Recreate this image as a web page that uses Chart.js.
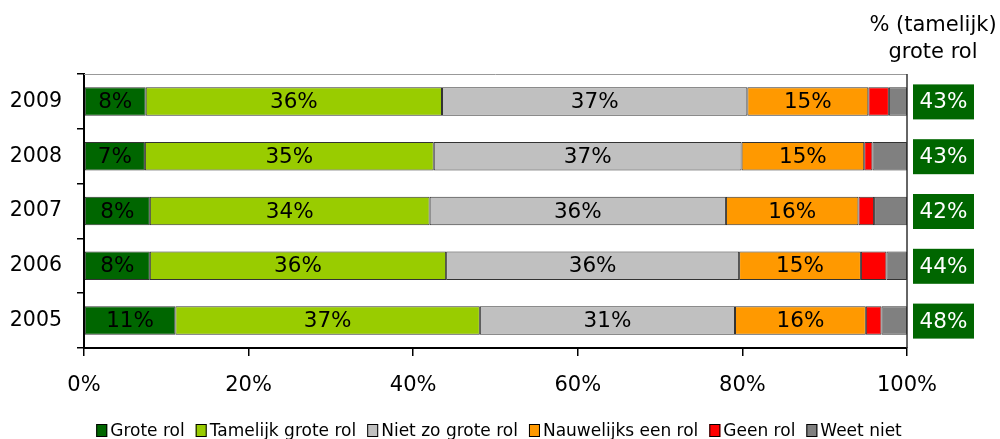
<!DOCTYPE html>
<html>
<head>
<meta charset="utf-8">
<script src="https://cdn.jsdelivr.net/npm/chart.js@4.4.0/dist/chart.umd.min.js"></script>
<style>
  html, body { margin: 0; padding: 0; background: #fff; }
  #wrap { width: 1000px; height: 439px; }
</style>
</head>
<body>
<div id="wrap"><canvas id="chart" width="1000" height="439"></canvas></div>
<script>
const years = ["2009", "2008", "2007", "2006", "2005"];
const groteRol = [7.5, 7.4, 8.0, 8.0, 11.1];
const tamelijkGroteRol = [36.0, 35.1, 34.0, 36.0, 37.0];
const nietZoGroteRol = [37.1, 37.4, 36.0, 35.6, 31.0];
const nauwelijksEenRol = [14.7, 14.9, 16.1, 14.8, 15.9];
const geenRol = [2.5, 1.0, 1.9, 3.1, 1.9];
const weetNiet = [2.2, 4.2, 4.0, 2.5, 3.1];
const totaalGroteRol = [43, 43, 42, 44, 48];
const seriesNames = ["Grote rol", "Tamelijk grote rol", "Niet zo grote rol", "Nauwelijks een rol", "Geen rol", "Weet niet"];
const seriesColors = ["#006600", "#99cc00", "#c0c0c0", "#ff9900", "#ff0000", "#808080"];
const headerLines = ["% (tamelijk)", "grote rol"];

const FONT = "'DejaVu Sans', sans-serif";

const seriesData = [groteRol, tamelijkGroteRol, nietZoGroteRol, nauwelijksEenRol, geenRol, weetNiet];

// labels inside bars, right-hand boxes, header, legend, frame
const extras = {
  id: "extras",
  beforeDatasetsDraw(chart) {
    const { ctx, chartArea: a } = chart;
    ctx.save();
    ctx.strokeStyle = "#999";
    ctx.lineWidth = 1;
    ctx.beginPath();
    ctx.moveTo(a.left, a.top + 0.5);
    ctx.lineTo(a.right, a.top + 0.5);
    ctx.stroke();
    ctx.strokeStyle = "#333";
    ctx.lineWidth = 1.5;
    ctx.beginPath();
    ctx.moveTo(a.right, a.top);
    ctx.lineTo(a.right, a.bottom);
    ctx.stroke();
    ctx.restore();
  },
  afterDraw(chart) {
    const { ctx } = chart;
    const yScale = chart.scales.y;
    ctx.save();
    ctx.textAlign = "center";
    ctx.textBaseline = "middle";
    ctx.font = "21.5px " + FONT;
    ctx.fillStyle = "#000";
    for (let d = 0; d < 4; d++) {
      const meta = chart.getDatasetMeta(d);
      meta.data.forEach((bar, i) => {
        const v = chart.data.datasets[d].data[i];
        ctx.fillText(Math.round(v) + "%", (bar.x + bar.base) / 2, bar.y + 1);
      });
    }
    // boxes right
    years.forEach((yr, i) => {
      const y = yScale.getPixelForValue(i);
      ctx.fillStyle = "#006600";
      ctx.fillRect(913, y - 17, 61, 35);
      ctx.fillStyle = "#fff";
      ctx.fillText(totaalGroteRol[i] + "%", 943.5, y + 1.5);
    });
    // header
    ctx.fillStyle = "#000";
    ctx.font = "21px " + FONT;
    ctx.textBaseline = "alphabetic";
    ctx.fillText(headerLines[0], 933, 31);
    ctx.fillText(headerLines[1], 933, 58);
    // legend
    ctx.font = "17px " + FONT;
    const boxW = 11, gapT = 3, gapI = 11;
    const ds = chart.data.datasets;
    let total = 0;
    ds.forEach((s, k) => {
      total += boxW + gapT + ctx.measureText(s.label).width + (k < ds.length - 1 ? gapI : 0);
    });
    let x = 499 - total / 2;
    ctx.textAlign = "left";
    ds.forEach((s) => {
      ctx.fillStyle = s.backgroundColor;
      ctx.fillRect(x, 424, boxW, 13);
      ctx.strokeStyle = "#000";
      ctx.lineWidth = 1;
      ctx.strokeRect(x + 0.5, 424.5, boxW - 1, 12);
      x += boxW + gapT;
      ctx.fillStyle = "#000";
      ctx.fillText(s.label, x, 436);
      x += ctx.measureText(s.label).width + gapI;
    });
    ctx.restore();
  }
};

new Chart(document.getElementById("chart"), {
  type: "bar",
  data: {
    labels: years,
    datasets: seriesData.map((vals, k) => ({
      label: seriesNames[k],
      data: vals,
      backgroundColor: seriesColors[k],
      borderColor: "#333",
      borderWidth: 1,
      borderSkipped: false,
      barPercentage: 0.52,
      categoryPercentage: 1
    }))
  },
  options: {
    indexAxis: "y",
    responsive: false,
    animation: false,
    devicePixelRatio: 1,
    layout: { padding: { top: 74, right: 93, left: 0, bottom: 0 } },
    plugins: { legend: { display: false }, tooltip: { enabled: false } },
    scales: {
      x: {
        stacked: true,
        min: 0,
        max: 100,
        afterFit(s) { s.height = 91; },
        afterBuildTicks(s) { s.ticks = [0, 20, 40, 60, 80, 100].map(v => ({ value: v })); },
        ticks: {
          callback: v => v + "%",
          color: "#000",
          font: { family: FONT, size: 21 },
          padding: 17,
          maxRotation: 0
        },
        grid: { drawOnChartArea: false, tickLength: 8, color: "#000", lineWidth: 1.5 },
        border: { color: "#000", width: 2 }
      },
      y: {
        stacked: true,
        afterFit(s) { s.width = 84; },
        ticks: {
          color: "#000",
          font: { family: FONT, size: 20.5 },
          padding: 15
        },
        grid: { drawOnChartArea: false, tickLength: 7, color: "#000", lineWidth: 1.5, offset: true },
        border: { color: "#000", width: 2 }
      }
    }
  },
  plugins: [extras]
});
</script>
</body>
</html>
